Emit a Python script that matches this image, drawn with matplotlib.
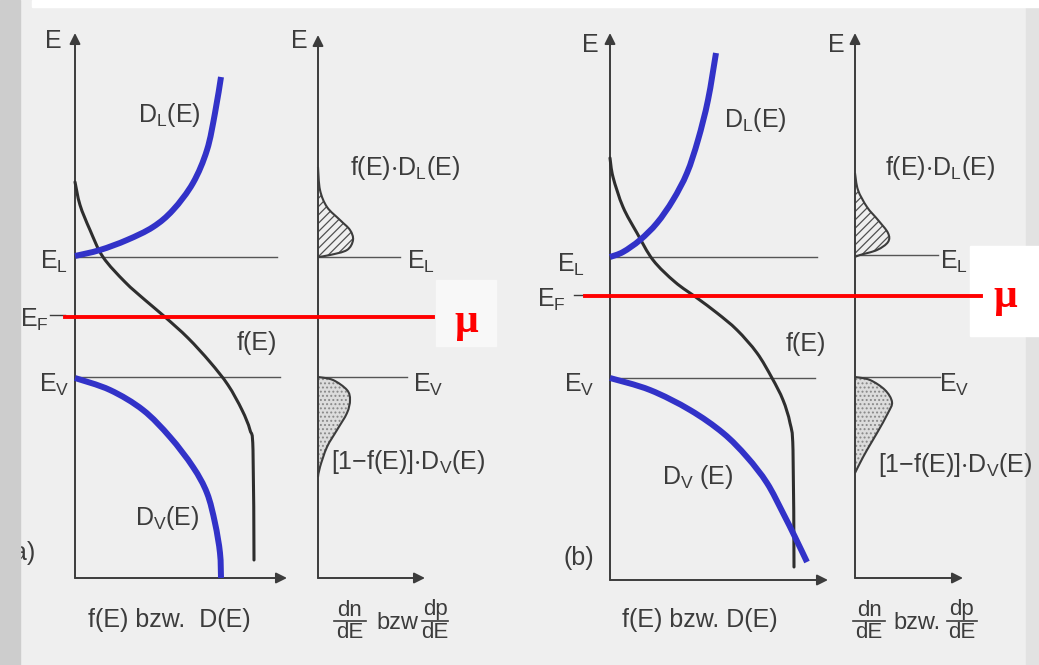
import numpy as np
import matplotlib.pyplot as plt
from matplotlib.patches import Rectangle, PathPatch
from matplotlib.path import Path

plt.rcParams['font.family'] = ['Liberation Sans', 'DejaVu Sans']
plt.rcParams['mathtext.default'] = 'regular'
plt.rcParams['hatch.linewidth'] = 0.9

# all values, in picture pixels (x right, y down)
# panel (a): f(E), D_L(E), D_V(E)
a_fe_x = [75, 80, 90, 103, 125, 145, 165, 188, 210, 228, 242, 250, 253, 254]
a_fe_y = [182, 205, 230, 257, 282, 300, 317, 338, 362, 385, 410, 430, 450, 560]
a_dl_x = [75, 100, 127, 153, 173, 193, 207, 215, 221]
a_dl_y = [256, 250, 240, 227, 210, 183, 150, 113, 77]
a_dv_x = [75, 110, 143, 170, 193, 207, 215, 220, 221]
a_dv_y = [378, 390, 410, 437, 467, 493, 523, 553, 578]
# panel (a) right: f*D_L and [1-f]*D_V
a_n_y = [167, 190, 207, 220, 230, 240, 250, 255, 257]
a_n_x = [318, 320, 327, 340, 350, 353, 347, 330, 318]
a_p_y = [377, 380, 390, 400, 413, 430, 447, 467, 477]
a_p_x = [318, 333, 347, 350, 347, 337, 327, 320, 318]

# panel (b)
b_fe_x = [610, 613, 623, 637, 653, 675, 697, 717, 737, 757, 772, 783, 790, 793, 794]
b_fe_y = [158, 177, 207, 233, 260, 282, 298, 313, 330, 353, 378, 400, 423, 450, 567]
b_dl_x = [610, 623, 640, 657, 673, 687, 698, 708, 716]
b_dl_y = [257, 252, 240, 223, 200, 173, 140, 100, 53]
b_dv_x = [610, 650, 690, 723, 747, 767, 783, 795, 807]
b_dv_y = [378, 390, 410, 433, 457, 483, 513, 537, 562]
b_n_y = [173, 190, 207, 220, 233, 242, 250, 255, 257]
b_n_x = [855, 858, 867, 878, 888, 888, 877, 860, 855]
b_p_y = [377, 380, 390, 402, 413, 433, 450, 463, 473]
b_p_x = [855, 870, 885, 892, 888, 877, 867, 860, 855]

# axes frames: (x0, y0 bottom, x_end arrow, y_top arrow)
frames = [(75, 578, 287, 33), (318, 578, 425, 35), (610, 580, 828, 33), (855, 578, 963, 33)]
# band edges: (y, x0, x1)
levels = [(257, 75, 277), (377, 75, 280), (257, 318, 400), (377, 318, 407),
          (257, 610, 817), (378, 610, 815), (255, 855, 938), (377, 855, 940)]
# chemical potential lines: (y, x0, x1)
mu_lines = [(317, 65, 433), (296, 585, 981)]

ink = '#3c3c3c'
blue = '#3232c8'


def smooth(xs, ys, close=False):
    # curve through the read points (catmull-rom as cubic bezier segments)
    pts = np.column_stack([xs, ys]).astype(float)
    n = len(pts)
    verts = [pts[0]]
    codes = [Path.MOVETO]
    for i in range(n - 1):
        p0, p1, p2, p3 = pts[max(i - 1, 0)], pts[i], pts[i + 1], pts[min(i + 2, n - 1)]
        verts += [p1 + (p2 - p0) / 6, p2 - (p3 - p1) / 6, p2]
        codes += [Path.CURVE4] * 3
    if close:
        verts += [pts[0]]
        codes += [Path.CLOSEPOLY]
    return Path(verts, codes)


fig = plt.figure(figsize=(10.39, 6.65), dpi=100)
fig.patch.set_facecolor('#efefef')
ax = fig.add_axes([0, 0, 1, 1])
ax.set_xlim(0, 1039)
ax.set_ylim(665, 0)
ax.axis('off')

# paper edges
ax.add_patch(Rectangle((0, 0), 20, 665, color='#cdcdcd', zorder=6))
ax.add_patch(Rectangle((32, 0), 1007, 7, color='white', zorder=6))
ax.add_patch(Rectangle((1026, 0), 13, 665, color='#e2e2e2', zorder=1))
ax.add_patch(Rectangle((436, 280), 60, 66, color='#f8f8f8', zorder=1))
ax.add_patch(Rectangle((970, 246), 69, 90, color='white', zorder=1))

for x0, y0, x1, y1 in frames:
    ax.annotate('', xy=(x0, y1), xytext=(x0, y0),
                arrowprops=dict(arrowstyle='-|>', lw=1.4, color=ink, mutation_scale=16,
                                shrinkA=0, shrinkB=0))
    ax.annotate('', xy=(x1, y0), xytext=(x0, y0),
                arrowprops=dict(arrowstyle='-|>', lw=1.4, color=ink, mutation_scale=16,
                                shrinkA=0, shrinkB=0))
for y, x0, x1 in levels:
    ax.plot([x0, x1], [y, y], color='#555555', lw=1.0, zorder=2)

# fermi tails
for xs, ys in [(a_fe_x, a_fe_y), (b_fe_x, b_fe_y)]:
    ax.add_patch(PathPatch(smooth(xs, ys), fill=False, edgecolor='#2e2e2e', lw=2.2,
                           capstyle='round', zorder=3))

# carrier distributions
for xs, ys in [(a_n_x, a_n_y), (b_n_x, b_n_y)]:
    ax.add_patch(PathPatch(smooth(xs, ys, True), facecolor='none', edgecolor='#505050',
                           hatch='////', lw=0, zorder=2))
    ax.add_patch(PathPatch(smooth(xs, ys), fill=False, edgecolor=ink, lw=1.5, zorder=3))
for xs, ys in [(a_p_x, a_p_y), (b_p_x, b_p_y)]:
    ax.add_patch(PathPatch(smooth(xs, ys, True), facecolor='#dcdcdc', edgecolor='#888888',
                           hatch='....', lw=0, zorder=2))
    ax.add_patch(PathPatch(smooth(xs, ys), fill=False, edgecolor=ink, lw=1.5, zorder=3))

# density of states (blue overlay)
for xs, ys in [(a_dl_x, a_dl_y), (a_dv_x, a_dv_y), (b_dl_x, b_dl_y), (b_dv_x, b_dv_y)]:
    ax.add_patch(PathPatch(smooth(xs, ys), fill=False, edgecolor=blue, lw=4.3,
                           capstyle='butt', joinstyle='round', zorder=4))

for y, x0, x1 in mu_lines:
    ax.plot([x0, x1], [y, y], color='#ff0000', lw=2.8, zorder=5)

ax.plot([50, 65], [315, 315], color=ink, lw=1.0)
ax.plot([574, 583], [295, 295], color=ink, lw=1.0)

fs = 18
labels = [
    (53, 41, 'E'), (299, 41, 'E'), (590, 45, 'E'), (836, 45, 'E'),
    (169, 115, 'D$_L$(E)'), (755, 120, 'D$_L$(E)'),
    (405, 168, 'f(E)$\\cdot$D$_L$(E)'), (940, 168, 'f(E)$\\cdot$D$_L$(E)'),
    (54, 262, 'E$_L$'), (421, 262, 'E$_L$'), (571, 265, 'E$_L$'), (954, 262, 'E$_L$'),
    (34, 320, 'E$_F$'), (551, 300, 'E$_F$'),
    (257, 343, 'f(E)'), (806, 344, 'f(E)'),
    (54, 385, 'E$_V$'), (428, 385, 'E$_V$'), (579, 385, 'E$_V$'), (954, 385, 'E$_V$'),
    (408, 462, '[1$-$f(E)]$\\cdot$D$_V$(E)'), (955, 465, '[1$-$f(E)]$\\cdot$D$_V$(E)'),
    (167, 518, 'D$_V$(E)'), (698, 477, 'D$_V$ (E)'),
    (24, 553, 'a)'), (579, 558, '(b)'),
    (169, 620, 'f(E) bzw.  D(E)'), (700, 620, 'f(E) bzw. D(E)'),
]
for x, y, s in labels:
    ax.text(x, y, s, fontsize=fs, color=ink, ha='center', va='center', zorder=3)

# dn/dE bzw dp/dE, built as stacked text with a bar
fractions = [(350, 'dn', 334, 366), (435, 'dp', 422, 448), (869, 'dn', 853, 885), (962, 'dp', 947, 977)]
for xc, num, xa, xb in fractions:
    ax.text(xc, 610, num, fontsize=16, color=ink, ha='center', va='center')
    ax.plot([xa, xb], [621, 621], color=ink, lw=1.2)
    ax.text(xc, 633, 'dE', fontsize=16, color=ink, ha='center', va='center')
ax.text(397, 623, 'bzw', fontsize=17, color=ink, ha='center', va='center')
ax.text(917, 623, 'bzw.', fontsize=17, color=ink, ha='center', va='center')

for x, y in [(466, 322), (1005, 297)]:
    ax.text(x, y, 'μ', fontsize=30, color='#ff0000', fontweight='bold',
            family=['Liberation Serif', 'DejaVu Serif'], ha='center', va='center', zorder=6)

fig.savefig('out.png', dpi=100, facecolor=fig.get_facecolor())
